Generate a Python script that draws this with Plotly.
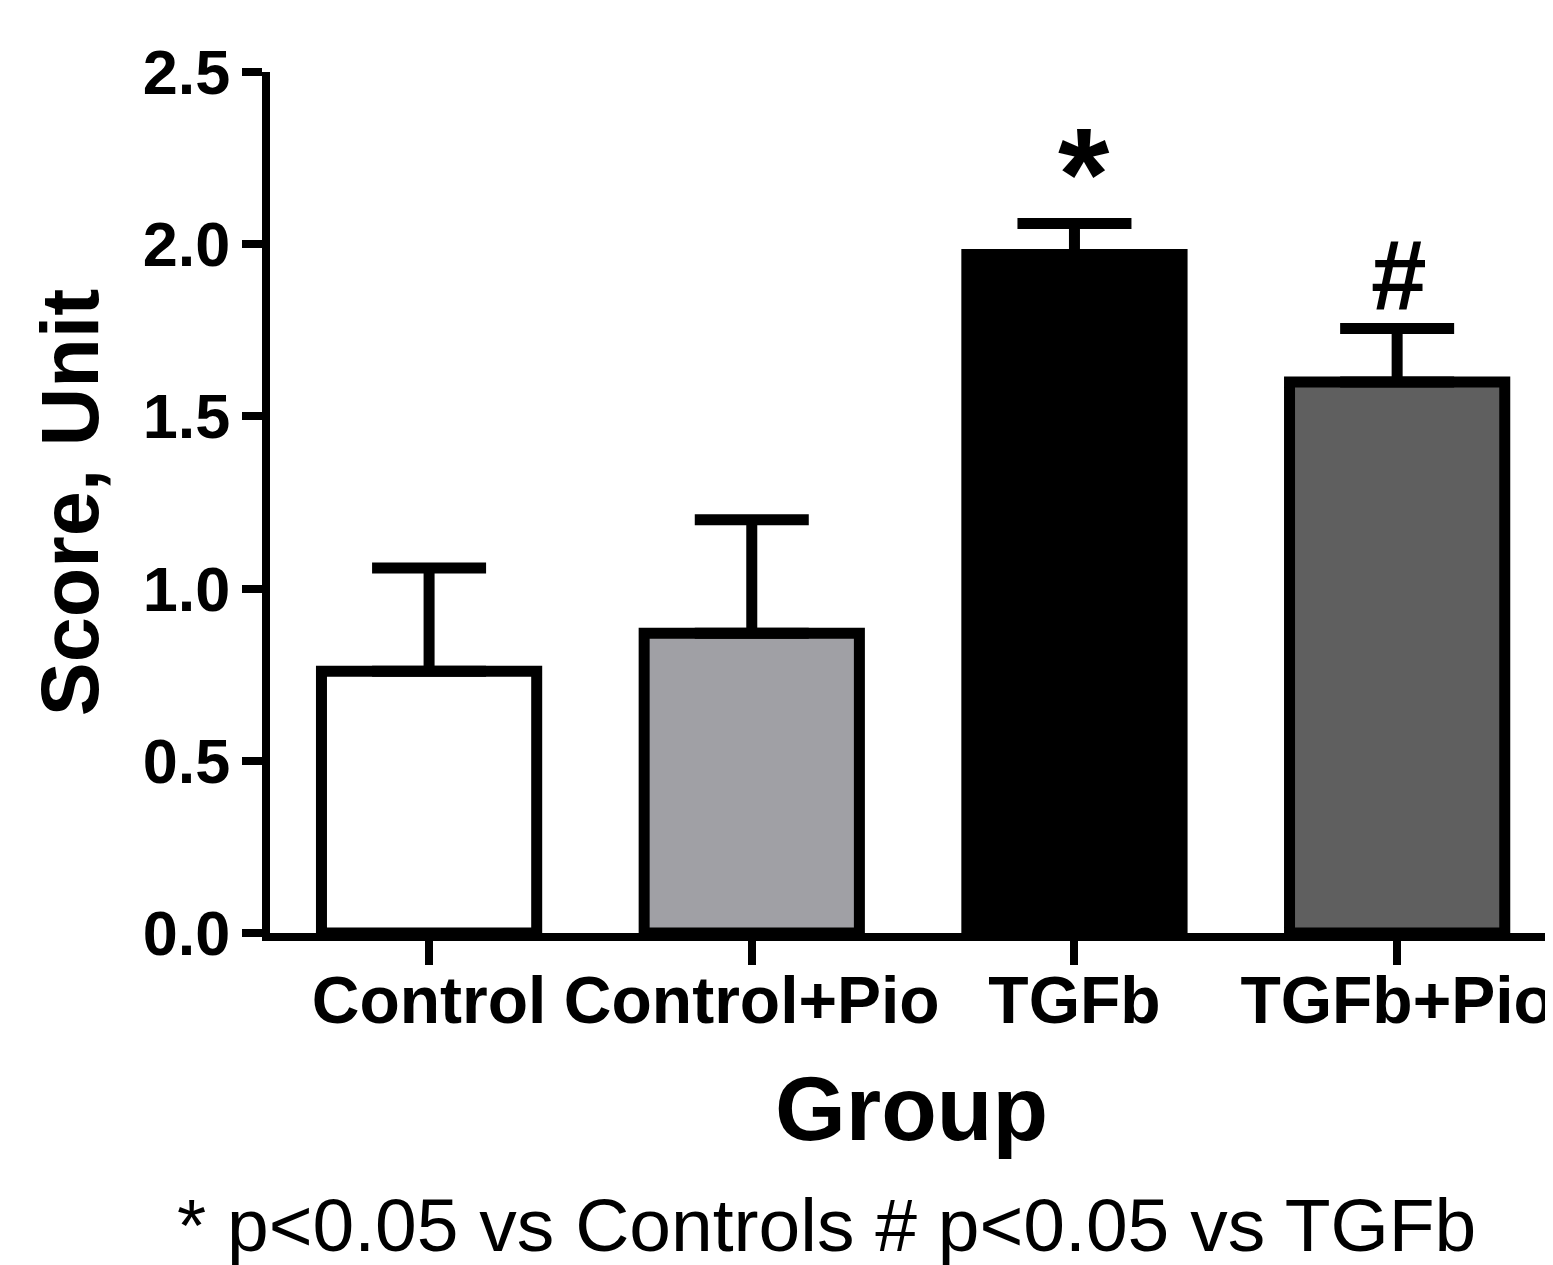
import plotly.graph_objects as go

groups = ["Control", "Control+Pio", "TGFb", "TGFb+Pio"]
means = [0.76, 0.87, 1.97, 1.60]
sems = [0.30, 0.33, 0.09, 0.155]
marks = ["", "", "*", "#"]
colors = ["#FFFFFF", "#A0A0A5", "#000000", "#5F5F5F"]

FONT = "Liberation Sans, Arial, sans-serif"

fig = go.Figure()
fig.add_trace(go.Bar(
    x=groups, y=means,
    marker=dict(color=colors, line=dict(color="black", width=11)),
    error_y=dict(type="data", array=sems, arrayminus=[0]*len(sems),
                 symmetric=False, color="black", thickness=11, width=57),
    width=0.667,
    showlegend=False,
))

shifts = {"*": (10, -26), "#": (2, -4)}
sizes = {"*": 132, "#": 100}
for g, m, s, mk in zip(groups, means, sems, marks):
    if mk:
        fig.add_annotation(x=g, y=m + s, xref="x", yref="y", text=mk,
                           showarrow=False, yanchor="bottom",
                           xshift=shifts[mk][0], yshift=shifts[mk][1],
                           font=dict(family=FONT, size=sizes[mk], color="black", weight="bold"))

# page has an 8px body margin; layout below is in figure coordinates
L, T, B, R = 262, 64, 340, 8
W, H = 1553, 1265
PB = H - B  # plot bottom in figure px
fig.add_annotation(x=(818 - L) / (W - R - L), y=-(1217 - PB) / (PB - T),
                   xref="paper", yref="paper", xanchor="center", yanchor="middle",
                   text="* p<0.05 vs Controls # p<0.05 vs TGFb",
                   showarrow=False, font=dict(family=FONT, size=75, color="black"))

fig.update_layout(
    width=W, height=H,
    margin=dict(l=L, r=R, t=T, b=B, autoexpand=False),
    paper_bgcolor="white", plot_bgcolor="white",
    font=dict(family=FONT, color="black"),
    bargap=1/3,
)

fig.update_xaxes(
    range=[-0.493, 3.483], showline=True, linecolor="black", linewidth=8,
    ticks="outside", ticklen=24, tickwidth=8, tickcolor="black",
    ticklabelstandoff=-21, automargin=False,
    tickfont=dict(family=FONT, size=66, color="black", weight="bold"),
    title=dict(text="Group", font=dict(family=FONT, size=91, color="black", weight="bold"), standoff=43),
    showgrid=False, zeroline=False,
)
fig.update_yaxes(
    range=[0, 2.5], tickvals=[0, 0.5, 1.0, 1.5, 2.0, 2.5], tickformat=".1f",
    showline=True, linecolor="black", linewidth=8,
    ticks="outside", ticklen=20, tickwidth=8, tickcolor="black",
    ticklabelstandoff=-1, automargin=False,
    tickfont=dict(family=FONT, size=63, color="black", weight="bold"),
    title=dict(text="Score, Unit", font=dict(family=FONT, size=81, color="black", weight="bold"), standoff=20),
    showgrid=False, zeroline=False,
)

fig.write_html("out.html")
